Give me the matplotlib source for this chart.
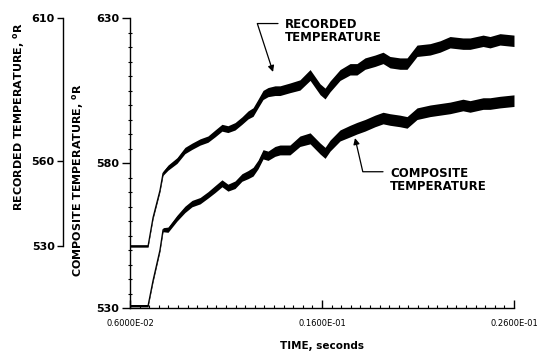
import matplotlib.pyplot as plt
import numpy as np

# time, seconds
time = [0.00600, 0.00694, 0.00720, 0.00756, 0.00772, 0.00798, 0.00845, 0.00886,
        0.00923, 0.00965, 0.01006, 0.01043, 0.01079, 0.01110, 0.01147, 0.01183,
        0.01215, 0.01241, 0.01267, 0.01293, 0.01319, 0.01355, 0.01381, 0.01433,
        0.01485, 0.01538, 0.01590, 0.01616, 0.01642, 0.01694, 0.01746, 0.01782,
        0.01824, 0.01876, 0.01918, 0.01954, 0.02006, 0.02043, 0.02095, 0.02163,
        0.02215, 0.02267, 0.02334, 0.02371, 0.02439, 0.02475, 0.02527, 0.02600]

# composite temperature, deg R (inner axis)
composite = [530.8, 530.8, 539.5, 550.0, 557.0, 557.0, 561.0, 564.0,
             566.0, 567.0, 569.0, 571.0, 573.0, 571.5, 572.5, 575.0,
             576.0, 577.0, 579.5, 583.0, 582.5, 584.0, 584.5, 584.5,
             587.5, 588.5, 585.0, 583.5, 586.0, 589.5, 591.0, 592.0,
             593.0, 594.5, 595.5, 595.0, 594.5, 594.0, 597.0, 598.0,
             598.5, 599.0, 600.0, 599.5, 600.5, 600.5, 601.0, 601.5]

# recorded temperature, deg R (outer axis)
recorded = [530.0, 530.0, 540.0, 549.5, 555.5, 557.5, 560.0, 563.5,
            565.0, 566.5, 567.5, 569.5, 571.5, 571.0, 572.0, 574.0,
            576.0, 577.0, 580.0, 583.0, 584.0, 584.5, 584.5, 585.5,
            586.5, 590.0, 585.0, 583.5, 586.0, 590.0, 592.0, 592.0,
            594.0, 595.0, 596.0, 594.5, 594.0, 594.0, 598.5, 599.0,
            600.0, 601.5, 601.0, 601.0, 602.0, 601.5, 602.5, 602.0]

# half thickness of the noisy trace, deg R
spread = [0.4, 0.4, 0.5, 0.5, 0.7, 0.9, 1.0, 1.1,
          1.1, 1.1, 1.1, 1.2, 1.2, 1.2, 1.3, 1.3,
          1.4, 1.5, 1.5, 1.6, 1.6, 1.7, 1.7, 1.7,
          1.8, 1.9, 1.9, 1.9, 1.9, 1.9, 2.0, 2.0,
          2.0, 2.0, 2.0, 2.0, 2.0, 2.0, 2.0, 2.0,
          2.0, 2.0, 2.0, 2.0, 2.0, 2.0, 2.0, 2.0]

xticks = [0.006, 0.016, 0.026]
xticklabels = ['0.6000E-02', '0.1600E-01', '0.2600E-01']

t = np.array(time)
comp = np.array(composite)
rec = np.array(recorded)
sp = np.array(spread)

fig = plt.figure(figsize=(5.39, 3.6), dpi=100)
ax = fig.add_axes([0.2412, 0.1444, 0.9536 - 0.2412, 0.95 - 0.1444])
ax.fill_between(t, comp - sp, comp + sp, color='black', lw=0)
ax.plot(t, comp, color='black', lw=0.9)
ax.set_xlim(0.006, 0.026)
ax.set_ylim(530, 630)
for s in ['top', 'right']:
    ax.spines[s].set_visible(False)
ax.spines['left'].set_linewidth(1.0)
ax.spines['bottom'].set_linewidth(1.0)
ax.set_yticks([530, 580, 630])
ax.set_yticks(np.arange(530, 631, 5), minor=True)
ax.set_xticks(xticks)
ax.set_xticklabels(xticklabels, fontsize=6)
ax.set_xticks(np.arange(0.006, 0.02601, 0.0005), minor=True)
ax.tick_params(axis='y', which='major', direction='out', length=6, width=1, labelsize=8, pad=2)
ax.tick_params(axis='y', which='minor', direction='inout', length=3, width=0.8)
ax.tick_params(axis='x', which='major', direction='in', length=5.5, width=1, pad=8)
ax.tick_params(axis='x', which='minor', direction='in', length=2.2, width=0.8)
for lab in ax.get_yticklabels():
    lab.set_fontweight('bold')
ax.set_ylabel('COMPOSITE TEMPERATURE, $^{\\mathbf{o}}$R', fontsize=8, fontweight='bold')
ax.yaxis.set_label_coords(-0.115, 0.44)
ax.set_xlabel('TIME, seconds', fontsize=7.5, fontweight='bold', labelpad=9)

# outer axis for the recorded temperature
ax2 = ax.twinx()
ax2.yaxis.tick_left()
ax2.yaxis.set_label_position('left')
ax2.fill_between(t, rec - sp, rec + sp, color='black', lw=0)
ax2.plot(t, rec, color='black', lw=0.9)
ax2.set_ylim(508.25, 610)
for s in ['top', 'right', 'bottom']:
    ax2.spines[s].set_visible(False)
ax2.spines['left'].set_position(('outward', 48.2))
ax2.spines['left'].set_bounds(530, 610)
ax2.spines['left'].set_linewidth(1.0)
ax2.set_yticks([530, 560, 610])
ax2.tick_params(axis='y', direction='out', length=4, width=1, labelsize=8, pad=2)
for lab in ax2.get_yticklabels():
    lab.set_fontweight('bold')
ax2.set_ylabel('RECORDED TEMPERATURE, $^{\\mathbf{o}}$R', fontsize=8, fontweight='bold')
ax2.yaxis.set_label_coords(-0.268, 0.66)

arrow = dict(arrowstyle='-|>', color='black', lw=0.9, mutation_scale=9, shrinkA=3, shrinkB=0)
ax.annotate('RECORDED\nTEMPERATURE', xy=(0.01345, 611.4), xytext=(0.01407, 625.4),
            fontsize=8.5, fontweight='bold', ha='left', va='center', linespacing=1.0,
            arrowprops=dict(arrow, relpos=(0, 0.8),
                            connectionstyle='angle,angleA=0,angleB=108,rad=0'))
ax.annotate('COMPOSITE\nTEMPERATURE', xy=(0.01772, 588.6), xytext=(0.01954, 574.3),
            fontsize=8.5, fontweight='bold', ha='left', va='center', linespacing=1.0,
            arrowprops=dict(arrow, relpos=(0, 0.8),
                            connectionstyle='angle,angleA=0,angleB=-77,rad=0'))

fig.savefig('out.png', dpi=100)
